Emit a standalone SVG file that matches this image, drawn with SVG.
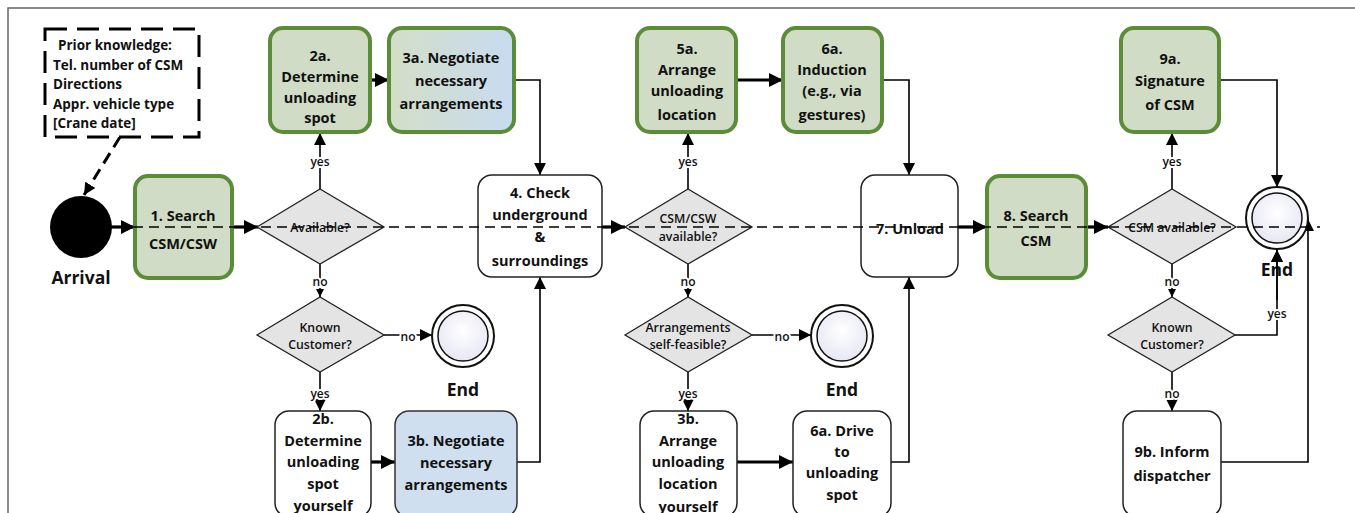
<svg xmlns="http://www.w3.org/2000/svg" width="1355" height="513" viewBox="0 0 1355 513">
<style>
.t{font-family:"Open Sans","Liberation Sans",sans-serif;font-weight:700;font-size:14.5px;fill:#111;text-anchor:middle;dominant-baseline:central}
.pk{font-family:"Open Sans","Liberation Sans",sans-serif;font-weight:700;font-size:13.5px;fill:#111;dominant-baseline:central}
.d{font-family:"Open Sans","Liberation Sans",sans-serif;font-weight:600;font-size:12.3px;fill:#111;text-anchor:middle;dominant-baseline:central}
.lbl{font-family:"Open Sans","Liberation Sans",sans-serif;font-weight:600;font-size:12px;fill:#111;text-anchor:middle;dominant-baseline:central;stroke:#fff;stroke-width:4;paint-order:stroke}
.big{font-family:"Open Sans","Liberation Sans",sans-serif;font-weight:700;font-size:17.5px;fill:#111;text-anchor:middle;dominant-baseline:central}
.g{fill:#d0dcc5;stroke:#5b8c38;stroke-width:4}
.w{fill:#fff;stroke:#222;stroke-width:1.5}
.b{fill:#cfdff0;stroke:#333;stroke-width:1.5}
.dia{fill:#e4e4e4;stroke:#222;stroke-width:1.3}
.c{fill:none;stroke:#000;stroke-width:1.6}
.th{fill:none;stroke:#000;stroke-width:3.2}
.ec{fill:#fff;stroke:#111;stroke-width:2}
.ei{fill:url(#eg);stroke:#111;stroke-width:1.5}
</style>
<defs>
<linearGradient id="gb" x1="0" y1="0" x2="1" y2="0">
<stop offset="0" stop-color="#d3dec7"/><stop offset="1" stop-color="#c8dbf0"/>
</linearGradient>
<radialGradient id="eg" cx="0.5" cy="0.4" r="0.6">
<stop offset="0" stop-color="#ffffff"/><stop offset="1" stop-color="#e6e7f3"/>
</radialGradient>
<marker id="ab" viewBox="0 0 10 10" refX="10" refY="5" markerWidth="15" markerHeight="14" orient="auto" markerUnits="userSpaceOnUse"><path d="M0,0L10,5L0,10z" fill="#000"/></marker>
<marker id="am" viewBox="0 0 10 10" refX="10" refY="5" markerWidth="12" markerHeight="12" orient="auto" markerUnits="userSpaceOnUse"><path d="M0,0L10,5L0,10z" fill="#000"/></marker>
<marker id="as" viewBox="0 0 10 10" refX="10" refY="5" markerWidth="8" markerHeight="8" orient="auto" markerUnits="userSpaceOnUse"><path d="M0,0L10,5L0,10z" fill="#000"/></marker>
</defs>
<rect width="1355" height="513" fill="#fff"/>
<path d="M8,513 V8 H1355" fill="none" stroke="#666" stroke-width="1.5"/>

<g id="connectors">
<line class="th" x1="111" y1="227" x2="135" y2="227" marker-end="url(#ab)"/>
<line class="th" x1="232" y1="227" x2="258" y2="227" marker-end="url(#ab)"/>
<line class="c" stroke-width="2" x1="320" y1="189" x2="320" y2="133" marker-end="url(#am)"/>
<line class="c" stroke-width="2" x1="320" y1="264" x2="320" y2="297" marker-end="url(#as)"/>
<line class="c" stroke-width="2.5" x1="384" y1="335" x2="432" y2="335" marker-end="url(#am)"/>
<line class="c" stroke-width="2" x1="320" y1="372" x2="320" y2="411" marker-end="url(#am)"/>
<line class="th" x1="370" y1="80" x2="389" y2="80" marker-end="url(#ab)"/>
<polyline class="c" points="514,80 540,80 540,175" marker-end="url(#am)"/>
<line class="th" x1="371" y1="462" x2="395" y2="462" marker-end="url(#ab)"/>
<polyline class="c" points="517,462 540,462 540,277" marker-end="url(#am)"/>
<line class="th" x1="602" y1="227" x2="625" y2="227" marker-end="url(#ab)"/>
<line class="c" stroke-width="2" x1="688" y1="189" x2="688" y2="133" marker-end="url(#am)"/>
<line class="c" stroke-width="2" x1="688" y1="264" x2="688" y2="297" marker-end="url(#as)"/>
<line class="c" stroke-width="2.5" x1="752" y1="335" x2="811" y2="335" marker-end="url(#am)"/>
<line class="c" stroke-width="2" x1="688" y1="372" x2="688" y2="411" marker-end="url(#am)"/>
<line class="th" x1="736" y1="80" x2="783" y2="80" marker-end="url(#ab)"/>
<polyline class="c" points="882,80 909,80 909,175" marker-end="url(#am)"/>
<line class="th" x1="737" y1="462" x2="793" y2="462" marker-end="url(#ab)"/>
<polyline class="c" points="891,462 909,462 909,277" marker-end="url(#am)"/>
<line class="th" x1="958" y1="227" x2="987" y2="227" marker-end="url(#ab)"/>
<line class="th" x1="1086" y1="227" x2="1108" y2="227" marker-end="url(#ab)"/>
<line class="c" stroke-width="2" x1="1172" y1="189" x2="1172" y2="133" marker-end="url(#am)"/>
<line class="c" stroke-width="2" x1="1172" y1="264" x2="1172" y2="297" marker-end="url(#as)"/>
<line class="c" stroke-width="2" x1="1172" y1="372" x2="1172" y2="411" marker-end="url(#am)"/>
<polyline class="c" points="1219,80 1277,80 1277,187" marker-end="url(#am)"/>
<polyline class="c" points="1235,335 1277,335 1277,250" marker-end="url(#am)"/>
<polyline class="c" points="1221,462 1308,462 1308,219" marker-end="url(#am)"/>
<line x1="120" y1="137" x2="84" y2="195" stroke="#000" stroke-width="3" stroke-dasharray="12 7" marker-end="url(#am)"/>
<text class="lbl" x="320" y="161">yes</text>
<text class="lbl" x="320" y="281">no</text>
<text class="lbl" x="408" y="336">no</text>
<text class="lbl" x="320" y="393">yes</text>
<text class="lbl" x="688" y="161">yes</text>
<text class="lbl" x="688" y="281">no</text>
<text class="lbl" x="782" y="336">no</text>
<text class="lbl" x="688" y="393">yes</text>
<text class="lbl" x="1172" y="161">yes</text>
<text class="lbl" x="1172" y="281">no</text>
<text class="lbl" x="1277" y="313">yes</text>
<text class="lbl" x="1172" y="393">no</text>
</g>

<g id="prior">
<rect x="45" y="29" width="154" height="108" fill="#fff" stroke="#000" stroke-width="3" stroke-dasharray="22 10"/>
<text class="pk" x="58" y="45">Prior knowledge:</text>
<text class="pk" x="53" y="65">Tel. number of CSM</text>
<text class="pk" x="53" y="84">Directions</text>
<text class="pk" x="53" y="104">Appr. vehicle type</text>
<text class="pk" x="53" y="123">[Crane date]</text>
</g>

<g id="arrival">
<circle cx="81" cy="227" r="31" fill="#000"/>
<text class="big" x="81" y="277">Arrival</text>
</g>

<g id="n1"><rect class="g" x="135" y="176" width="97" height="102" rx="13"/>
<text class="t" x="183" y="215">1. Search</text><text class="t" x="183" y="243">CSM/CSW</text></g>

<g id="d1"><polygon class="dia" points="257,227 320,189 384,227 320,264"/>
<text class="d" x="320" y="227">Available?</text></g>

<g id="n2a"><rect class="g" x="270" y="28" width="100" height="104" rx="13"/>
<text class="t" x="320" y="55">2a.</text><text class="t" x="320" y="76">Determine</text><text class="t" x="320" y="97">unloading</text><text class="t" x="320" y="117">spot</text></g>

<g id="n3a"><rect class="g" x="389" y="28" width="125" height="104" rx="13" style="fill:url(#gb)"/>
<text class="t" x="451" y="57">3a. Negotiate</text><text class="t" x="451" y="80">necessary</text><text class="t" x="451" y="103">arrangements</text></g>

<g id="dk1"><polygon class="dia" points="257,335 320,297 384,335 320,372"/>
<text class="d" x="320" y="327">Known</text><text class="d" x="320" y="344">Customer?</text></g>

<g id="end1"><circle class="ec" cx="463" cy="336" r="31"/><circle class="ei" cx="463" cy="336" r="25"/>
<text class="big" x="463" y="389">End</text></g>

<g id="n2b"><rect class="w" x="275" y="411" width="96" height="106" rx="14"/>
<text class="t" x="323" y="418">2b.</text><text class="t" x="323" y="440">Determine</text><text class="t" x="323" y="461">unloading</text><text class="t" x="323" y="483">spot</text><text class="t" x="323" y="505">yourself</text></g>

<g id="n3b"><rect class="b" x="395" y="411" width="122" height="106" rx="14"/>
<text class="t" x="456" y="440">3b. Negotiate</text><text class="t" x="456" y="462">necessary</text><text class="t" x="456" y="484">arrangements</text></g>

<g id="n4"><rect class="w" x="478" y="175" width="124" height="102" rx="14"/>
<text class="t" x="540" y="192">4. Check</text><text class="t" x="540" y="214">underground</text><text class="t" x="540" y="236">&amp;</text><text class="t" x="540" y="260">surroundings</text></g>

<g id="d2"><polygon class="dia" points="625,227 688,189 752,227 688,264"/>
<text class="d" x="688" y="218">CSM/CSW</text><text class="d" x="688" y="236">available?</text></g>

<g id="n5a"><rect class="g" x="637" y="28" width="99" height="104" rx="13"/>
<text class="t" x="687" y="48">5a.</text><text class="t" x="687" y="69">Arrange</text><text class="t" x="687" y="90">unloading</text><text class="t" x="687" y="114">location</text></g>

<g id="n6a"><rect class="g" x="783" y="28" width="99" height="104" rx="13"/>
<text class="t" x="832" y="48">6a.</text><text class="t" x="832" y="69">Induction</text><text class="t" x="832" y="90">(e.g., via</text><text class="t" x="832" y="114">gestures)</text></g>

<g id="dk2"><polygon class="dia" points="625,335 688,297 752,335 688,372"/>
<text class="d" x="688" y="327">Arrangements</text><text class="d" x="688" y="344">self-feasible?</text></g>

<g id="end2"><circle class="ec" cx="842" cy="336" r="31"/><circle class="ei" cx="842" cy="336" r="25"/>
<text class="big" x="842" y="389">End</text></g>

<g id="n3b2"><rect class="w" x="640" y="411" width="97" height="106" rx="14"/>
<text class="t" x="688" y="418">3b.</text><text class="t" x="688" y="440">Arrange</text><text class="t" x="688" y="461">unloading</text><text class="t" x="688" y="483">location</text><text class="t" x="688" y="506">yourself</text></g>

<g id="n6b"><rect class="w" x="793" y="411" width="98" height="106" rx="14"/>
<text class="t" x="842" y="430">6a. Drive</text><text class="t" x="842" y="451">to</text><text class="t" x="842" y="472">unloading</text><text class="t" x="842" y="494">spot</text></g>

<g id="n7"><rect class="w" x="861" y="175" width="97" height="102" rx="14"/>
<text class="t" x="910" y="228">7. Unload</text></g>

<g id="n8"><rect class="g" x="987" y="176" width="99" height="102" rx="13"/>
<text class="t" x="1036" y="215">8. Search</text><text class="t" x="1036" y="240">CSM</text></g>

<g id="d3"><polygon class="dia" points="1108,227 1172,189 1236,227 1172,264"/>
<text class="d" x="1172" y="227">CSM available?</text></g>

<g id="n9a"><rect class="g" x="1121" y="28" width="98" height="104" rx="13"/>
<text class="t" x="1170" y="58">9a.</text><text class="t" x="1170" y="80">Signature</text><text class="t" x="1170" y="104">of CSM</text></g>

<g id="dk3"><polygon class="dia" points="1108,335 1172,297 1235,335 1172,372"/>
<text class="d" x="1172" y="327">Known</text><text class="d" x="1172" y="344">Customer?</text></g>

<g id="end3"><circle class="ec" cx="1277" cy="218" r="31"/><circle class="ei" cx="1277" cy="218" r="25"/>
<text class="big" x="1277" y="269">End</text></g>

<g id="n9b"><rect class="w" x="1123" y="411" width="98" height="106" rx="14"/>
<text class="t" x="1172" y="451">9b. Inform</text><text class="t" x="1172" y="475">dispatcher</text></g>

<g id="dashed">
<line x1="133" y1="227" x2="1320" y2="227" stroke="#000" stroke-width="1.4" stroke-dasharray="10 6"/>
</g>
<g id="end3arrows">
<line class="c" x1="1277" y1="300" x2="1277" y2="250" marker-end="url(#am)"/>
</g>
</svg>
